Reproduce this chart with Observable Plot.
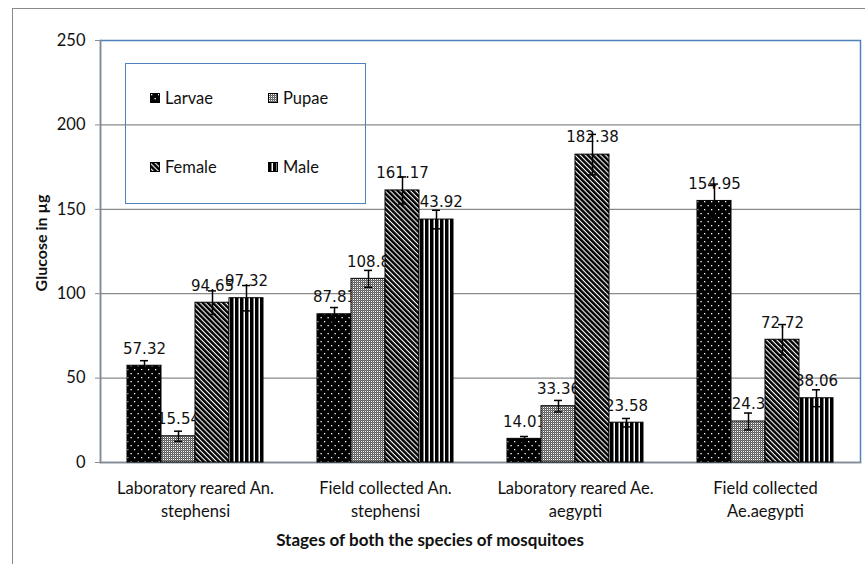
<!DOCTYPE html>
<html>
<head>
<meta charset="utf-8">
<script src="https://cdn.jsdelivr.net/npm/d3@7"></script>
<script src="https://cdn.jsdelivr.net/npm/@observablehq/plot@0.6"></script>
<style>
  html, body { margin: 0; padding: 0; background: #fff; overflow: hidden; width: 865px; height: 564px; }
  #wrap { position: relative; width: 865px; height: 564px; font-family: Lato, "Open Sans", sans-serif; }
  #outer { position: absolute; left: 12px; top: 8px; width: 1000px; height: 1000px; border-left: 1px solid #8a8a8a; border-top: 1px solid #8a8a8a; }
  #chart { position: absolute; left: 0; top: 0; }
  #legend { position: absolute; left: 125px; top: 63px; width: 239px; height: 139px; border: 1.5px solid #4f81bd; font-size: 16.5px; color: #111; }
  .item { position: absolute; display: flex; align-items: center; gap: 5px; }
  .item svg { display: block; }
  #xtitle { position: absolute; left: 0; width: 860px; top: 529px; text-align: center; font-weight: bold; font-size: 17px; color: #111; }
  #ytitle { position: absolute; left: 40px; top: 243px; transform: translate(-50%, -50%) rotate(-90deg); white-space: nowrap; font-weight: bold; font-size: 16px; color: #111; }
</style>
</head>
<body>
<div id="wrap">
  <div id="outer"></div>
  <div id="chart"></div>
  <div id="legend"></div>
  <div id="xtitle">Stages of both the species of mosquitoes</div>
  <div id="ytitle">Glucose in µg</div>
</div>
<script>
// ---- data ----
const groups = ["Laboratory reared An. stephensi", "Field collected An. stephensi", "Laboratory reared Ae. aegypti", "Field collected Ae.aegypti"];
const groupLabels = ["Laboratory reared An.\nstephensi", "Field collected An.\nstephensi", "Laboratory reared Ae.\naegypti", "Field collected\nAe.aegypti"];
const series = ["Larvae", "Pupae", "Female", "Male"];
const larvae = [57.32, 87.81, 14.01, 154.95];
const pupae = [15.54, 108.8, 33.36, 24.3];
const female = [94.65, 161.17, 182.38, 72.72];
const male = [97.32, 143.92, 23.58, 38.06];
const larvaeErr = [3, 4, 1.4, 10];
const pupaeErr = [3, 5, 3.4, 5];
const femaleErr = [7, 8, 12, 9];
const maleErr = [7.5, 5.5, 2.5, 5];
const yTicks = [0, 50, 100, 150, 200, 250];

const values = [larvae, pupae, female, male];
const errors = [larvaeErr, pupaeErr, femaleErr, maleErr];
const patternIds = ["url(#pLarvae)", "url(#pPupae)", "url(#pFemale)", "url(#pMale)"];

const data = groups.flatMap((g, i) => series.map((s, j) => ({
  group: g, series: s, value: values[j][i], err: errors[j][i],
  lo: values[j][i] - errors[j][i], hi: values[j][i] + errors[j][i]
})));

// ---- pattern defs (global, shared with legend) ----
const defs = `
<svg width="0" height="0" style="position:absolute">
  <defs>
    <pattern id="pLarvae" patternUnits="userSpaceOnUse" width="7" height="8">
      <rect width="7" height="8" fill="#000"/>
      <rect x="1" y="1" width="1.3" height="1.3" fill="#fff"/>
      <rect x="4.5" y="5" width="1.3" height="1.3" fill="#fff"/>
    </pattern>
    <pattern id="pPupae" patternUnits="userSpaceOnUse" width="2" height="2">
      <rect width="2" height="2" fill="#5a5a5a"/>
      <rect x="1" y="1" width="1" height="1" fill="#fff"/>
      <rect x="0" y="0" width="0.6" height="0.6" fill="#bbb"/>
    </pattern>
    <pattern id="pFemale" patternUnits="userSpaceOnUse" width="3.6" height="3.6" patternTransform="rotate(-45)">
      <rect width="3.6" height="3.6" fill="#fff"/>
      <rect width="2.5" height="3.6" fill="#000"/>
    </pattern>
    <pattern id="pMale" patternUnits="userSpaceOnUse" width="5" height="5">
      <rect width="5" height="5" fill="#fff"/>
      <rect width="3.5" height="5" fill="#000"/>
    </pattern>
  </defs>
</svg>`;
document.body.insertAdjacentHTML("afterbegin", defs);

const labelFont = {fontFamily: "DejaVu Sans", fontSize: 15, fill: "#111"};

const chart = Plot.plot({
  width: 865,
  height: 564,
  marginLeft: 100,
  marginRight: 5,
  marginTop: 40,
  marginBottom: 102,
  style: {fontFamily: "Lato, sans-serif", fontSize: "16.5px", color: "#111", background: "transparent"},
  fx: {domain: groups, padding: 0, label: null},
  x: {domain: series, paddingInner: 0, paddingOuter: 0.75, axis: null},
  y: {domain: [0, 250], label: null},
  color: {domain: series, range: patternIds},
  marks: [
    Plot.gridY([50, 100, 150, 200], {stroke: "#8a8a8a", strokeOpacity: 1, strokeWidth: 1.2}),
    Plot.frame({facet: "super", stroke: "#4f81bd", strokeWidth: 1.5}),
    Plot.frame({facet: "super", anchor: "left", stroke: "#8a8a8a", strokeWidth: 1.5}),
    Plot.frame({facet: "super", anchor: "bottom", stroke: "#8a8a8a", strokeWidth: 1.5}),
    Plot.axisY({ticks: yTicks, tickSize: 5, tickPadding: 10, stroke: "#8a8a8a", label: null}),
    Plot.axisFx({anchor: "bottom", tickSize: 0, tickPadding: 16, label: null, lineHeight: 1.35,
      tickFormat: (d) => groupLabels[groups.indexOf(d)]}),
    Plot.text(data, {fx: "group", x: "series", y: "value", text: (d) => String(d.value), dy: -17, ...labelFont}),
    Plot.barY(data, {fx: "group", x: "series", y: "value", fill: "series", stroke: "#000", strokeWidth: 1}),
    Plot.ruleX(data, {fx: "group", x: "series", y1: "lo", y2: "hi", stroke: "#000", strokeWidth: 1.5}),
    Plot.tickY(data, {fx: "group", x: "series", y: "hi", stroke: "#000", strokeWidth: 1.5, insetLeft: 13, insetRight: 13}),
    Plot.tickY(data, {fx: "group", x: "series", y: "lo", stroke: "#000", strokeWidth: 1.5, insetLeft: 13, insetRight: 13})
  ]
});
document.getElementById("chart").appendChild(chart);

// ---- legend ----
const legend = document.getElementById("legend");
const positions = [[24, 35], [142, 35], [24, 104], [142, 104]];
series.forEach((s, i) => {
  const div = document.createElement("div");
  div.className = "item";
  div.style.left = positions[i][0] + "px";
  div.style.top = (positions[i][1] - 11) + "px";
  div.innerHTML = `<svg width="10" height="10"><rect x="0.5" y="0.5" width="9" height="9" fill="${patternIds[i]}" stroke="#000" stroke-width="1"/></svg><span>${s}</span>`;
  legend.appendChild(div);
});
</script>
</body>
</html>
